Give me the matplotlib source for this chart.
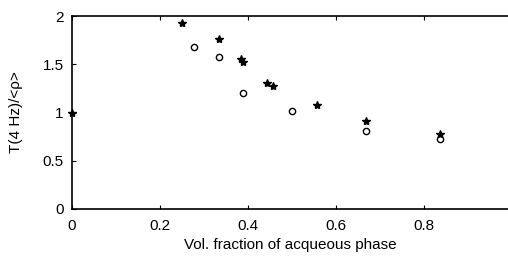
import matplotlib
matplotlib.use("Agg")
import matplotlib.pyplot as plt

star_x = [0.0, 0.25, 0.335, 0.384, 0.389, 0.444, 0.456, 0.557, 0.668, 0.836]
star_y = [1.0, 1.924, 1.759, 1.551, 1.523, 1.309, 1.278, 1.081, 0.909, 0.780]
circ_x = [0.278, 0.334, 0.389, 0.501, 0.668, 0.836]
circ_y = [1.682, 1.578, 1.199, 1.016, 0.808, 0.728]
xticks = [0, 0.2, 0.4, 0.6, 0.8]
xticklabels = ["0", "0.2", "0.4", "0.6", "0.8"]
yticks = [0, 0.5, 1, 1.5, 2]
yticklabels = ["0", "0.5", "1", "1.5", "2"]

plt.rcParams['font.family'] = ['Liberation Sans', 'DejaVu Sans']
fig = plt.figure(figsize=(5.08, 2.56), dpi=100)
ax = fig.add_axes([72/508, 47/256, 436/508, 193/256])
ax.plot(star_x, star_y, linestyle='none', marker='*', color='black', markersize=6, clip_on=False)
ax.plot(circ_x, circ_y, linestyle='none', marker='o', markerfacecolor='none',
        markeredgecolor='black', markersize=4.5, markeredgewidth=1.0, clip_on=False)
ax.set_xlim(0, 436/440)
ax.set_ylim(0, 2)
ax.set_xticks(xticks)
ax.set_xticklabels(xticklabels)
ax.set_yticks(yticks)
ax.set_yticklabels(yticklabels)
ax.spines['right'].set_visible(False)
for s in ['left', 'bottom', 'top']:
    ax.spines[s].set_linewidth(1.2)
ax.tick_params(direction='in', top=True, right=False, length=3, width=0.8, labelsize=11)
ax.tick_params(axis='x', pad=7)
ax.tick_params(axis='y', pad=6)
ax.set_xlabel("Vol. fraction of acqueous phase", fontsize=11, labelpad=4)
ax.set_ylabel("T(4 Hz)/<ρ>", fontsize=11, labelpad=14)
fig.savefig("out.png", dpi=100)
